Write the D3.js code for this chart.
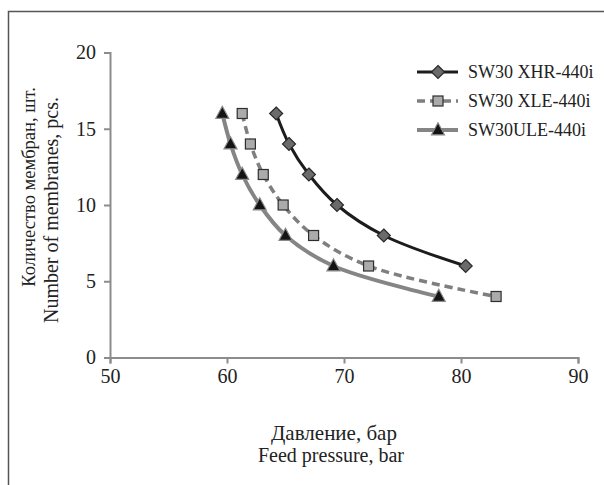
<!DOCTYPE html>
<html>
<head>
<meta charset="utf-8">
<script src="https://cdn.jsdelivr.net/npm/d3@7"></script>
<style>
  html, body { margin: 0; padding: 0; background: #fff; }
  svg { display: block; font-family: "Liberation Serif", "Times New Roman", serif; }
</style>
</head>
<body>
<svg id="chart" width="604" height="485"></svg>
<script>
// ---- data ----
const seriesNames = ["SW30 XHR-440i", "SW30 XLE-440i", "SW30ULE-440i"];
const membranes = [16, 14, 12, 10, 8, 6];
const xhrPressure = [64.2, 65.3, 67.0, 69.4, 73.4, 80.4];
const xleMembranes = [16, 14, 12, 10, 8, 6, 4];
const xlePressure = [61.3, 62.0, 63.1, 64.8, 67.4, 72.1, 83.0];
const uleMembranes = [16, 14, 12, 10, 8, 6, 4];
const ulePressure = [59.6, 60.3, 61.3, 62.8, 65.0, 69.1, 78.1];
const xTicks = [50, 60, 70, 80, 90];
const yTicks = [0, 5, 10, 15, 20];

const series = [
  { name: seriesNames[0], x: xhrPressure, y: membranes, stroke: "#1c1c1c", width: 3, dash: null, marker: "diamond", mFill: "#6b6b6b", mStroke: "#2a2a2a" },
  { name: seriesNames[1], x: xlePressure, y: xleMembranes, stroke: "#7f7f7f", width: 3.5, dash: "8,5", marker: "square", mFill: "#ababab", mStroke: "#2e2e2e" },
  { name: seriesNames[2], x: ulePressure, y: uleMembranes, stroke: "#858585", width: 4, dash: null, marker: "triangle", mFill: "#141414", mStroke: "#8a8a8a" }
];

const svg = d3.select("#chart");

// frame
svg.append("path").attr("d", "M8.5,485 L8.5,11.5 L604,11.5")
  .attr("fill", "none").attr("stroke", "#555").attr("stroke-width", 1.5);

const mLeft = 110, mRight = 578, mTop = 52.5, mBottom = 357.5;
const x = d3.scaleLinear().domain([50, 90]).range([mLeft, mRight]);
const y = d3.scaleLinear().domain([0, 20]).range([mBottom, mTop]);

// axes
const xAxis = svg.append("g").attr("transform", `translate(0,${mBottom})`)
  .call(d3.axisBottom(x).tickValues(xTicks).tickSize(6).tickPadding(5));
const yAxis = svg.append("g").attr("transform", `translate(${mLeft},0)`)
  .call(d3.axisLeft(y).tickValues(yTicks).tickSize(6).tickPadding(8));
[xAxis, yAxis].forEach(g => {
  g.selectAll("path.domain").attr("stroke", "#8c8c8c").attr("stroke-width", 2);
  g.selectAll(".tick line").attr("stroke", "#8c8c8c").attr("stroke-width", 2);
  g.selectAll(".tick text").attr("fill", "#222").style("font-size", "20px")
    .style("font-family", "'Liberation Serif', serif");
});

// axis titles
const xt = svg.append("text").attr("text-anchor", "middle").attr("fill", "#222")
  .style("font-size", "20px");
xt.append("tspan").attr("x", 334).attr("y", 440).style("font-size", "21px").text("Давление, бар");
xt.append("tspan").attr("x", 331).attr("y", 462).text("Feed pressure, bar");

const yt = svg.append("text").attr("text-anchor", "middle").attr("fill", "#222")
  .style("font-size", "20px").attr("transform", "rotate(-90)");
yt.append("tspan").attr("x", -187).attr("y", 35).style("font-size", "18.5px").text("Количество мембран, шт.");
yt.append("tspan").attr("x", -210).attr("y", 58).text("Number of membranes, pcs.");

// markers
function drawMarker(g, type, cx, cy, fill, stroke) {
  if (type === "diamond") {
    const r = 6.5;
    g.append("path").attr("d", `M${cx},${cy - r} L${cx + r},${cy} L${cx},${cy + r} L${cx - r},${cy} Z`)
      .attr("fill", fill).attr("stroke", stroke).attr("stroke-width", 1.2);
  } else if (type === "square") {
    const s = 10;
    g.append("rect").attr("x", cx - s / 2).attr("y", cy - s / 2).attr("width", s).attr("height", s)
      .attr("fill", fill).attr("stroke", stroke).attr("stroke-width", 1.2);
  } else {
    const w = 13, h = 12;
    g.append("path").attr("d", `M${cx},${cy - h * 0.6} L${cx + w / 2},${cy + h * 0.4} L${cx - w / 2},${cy + h * 0.4} Z`)
      .attr("fill", fill).attr("stroke", stroke).attr("stroke-width", 1.2);
  }
}

const line = d3.line().x(d => x(d[0])).y(d => y(d[1])).curve(d3.curveCatmullRom.alpha(0.5));

series.slice().reverse().forEach(s => {
  const pts = s.x.map((v, i) => [v, s.y[i]]);
  const g = svg.append("g");
  g.append("path").attr("d", line(pts)).attr("fill", "none")
    .attr("stroke", s.stroke).attr("stroke-width", s.width)
    .attr("stroke-dasharray", s.dash);
  pts.forEach(p => drawMarker(g, s.marker, x(p[0]), y(p[1]), s.mFill, s.mStroke));
});

// legend
const legY = [72, 101, 130];
series.forEach((s, i) => {
  const g = svg.append("g");
  g.append("line").attr("x1", 417).attr("x2", 458).attr("y1", legY[i]).attr("y2", legY[i])
    .attr("stroke", s.stroke).attr("stroke-width", s.width).attr("stroke-dasharray", s.dash);
  drawMarker(g, s.marker, 438, legY[i], s.mFill, s.mStroke);
  g.append("text").attr("x", 468).attr("y", legY[i] + 6).attr("fill", "#222")
    .style("font-size", "18px").text(s.name);
});
</script>
</body>
</html>
